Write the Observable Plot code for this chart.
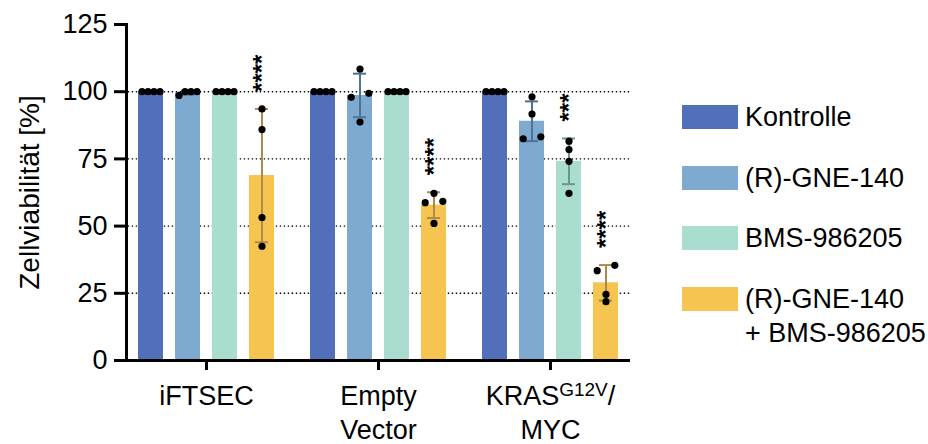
<!DOCTYPE html>
<html><head><meta charset="utf-8">
<script src="https://cdn.jsdelivr.net/npm/d3@7"></script>
<script src="https://cdn.jsdelivr.net/npm/@observablehq/plot@0.6"></script>
<style>
body{margin:0;background:#fff;font-family:"Liberation Sans",Arial,sans-serif;}
#wrap{position:relative;width:928px;height:444px;overflow:hidden;}
#chart{position:absolute;left:0;top:0;}
#legend{position:absolute;left:682px;top:0;width:246px;height:444px;}
.item{position:absolute;left:0;display:flex;align-items:flex-start;}
.sw{width:56px;height:24px;margin-top:5px;flex:none;}
.lab{margin-left:7px;font-size:27px;line-height:34px;color:#000;white-space:nowrap;}
</style></head><body>
<div id="wrap"><div id="chart"></div><div id="legend"></div></div>
<script>
// ---- data ----
const groups = ["iFTSEC", "Empty Vector", "KRAS G12V/MYC"];
const groupLabels = ["iFTSEC", "Empty\nVector", "KRASG12V/\nMYC"];
const treatments = ["Kontrolle", "(R)-GNE-140", "BMS-986205", "(R)-GNE-140 + BMS-986205"];
const legendLabels = ["Kontrolle", "(R)-GNE-140", "BMS-986205", "(R)-GNE-140<br>+ BMS-986205"];
const barColors = ["#5170b9", "#7eaacf", "#a8ddcf", "#f5c451"];
const errColors = ["#3b5690", "#4f7194", "#6b968e", "#ad8a47"];

// mean per group (iFTSEC, Empty Vector, KRAS/MYC)
const kontrolleMean = [100, 100, 100];
const gneMean = [99.6, 98.6, 89.0];
const bmsMean = [100, 100, 74.1];
const comboMean = [68.8, 57.8, 28.9];
// standard deviation per group
const kontrolleSD = [0, 0, 0];
const gneSD = [0.7, 8.1, 7.4];
const bmsSD = [0, 0, 8.5];
const comboSD = [24.8, 4.8, 6.6];
// single replicates per group
const kontrolleDots = [[100, 100, 100, 100], [100, 100, 100, 100], [100, 100, 100, 100]];
const gneDots = [[98.6, 100, 100, 100], [108.4, 99.4, 97.9, 88.7], [98.1, 91.7, 82.5, 83.2]];
const bmsDots = [[100, 100, 100, 100], [100, 100, 100, 100], [81.6, 78.5, 74.1, 62.2]];
const comboDots = [[93.6, 85.9, 53.2, 42.5], [62.2, 59.2, 58.7, 51.0], [33.4, 35.4, 24.6, 21.9]];
// significance marks
const starGroups = ["iFTSEC", "Empty Vector", "KRAS G12V/MYC", "KRAS G12V/MYC"];
const starTreatments = ["(R)-GNE-140 + BMS-986205", "(R)-GNE-140 + BMS-986205", "BMS-986205", "(R)-GNE-140 + BMS-986205"];
const starTexts = ["****", "****", "***", "****"];
const yTicks = [0, 25, 50, 75, 100, 125];
const gridValues = [25, 50, 75, 100];

// ---- tables ----
const means = [kontrolleMean, gneMean, bmsMean, comboMean];
const sds = [kontrolleSD, gneSD, bmsSD, comboSD];
const dotsAll = [kontrolleDots, gneDots, bmsDots, comboDots];
const bars = [];
groups.forEach((g, gi) => treatments.forEach((t, ti) => {
  bars.push({group: g, treatment: t, mean: means[ti][gi], sd: sds[ti][gi], lo: means[ti][gi] - sds[ti][gi], hi: means[ti][gi] + sds[ti][gi]});
}));
const errBars = bars.filter(d => d.sd > 0);

// scatter layout of replicate dots: dots that would overlap spread sideways
const dots = [];
groups.forEach((g, gi) => treatments.forEach((t, ti) => {
  const vals = dotsAll[ti][gi].slice().sort((a, b) => a - b);
  const clusters = [];
  vals.forEach(v => {
    const c = clusters[clusters.length - 1];
    if (c && v - c[c.length - 1] < 2.6) c.push(v); else clusters.push([v]);
  });
  clusters.forEach(c => {
    const n = c.length, sp = n > 2 ? 6 : 17.6;
    c.forEach((v, i) => dots.push({group: g, treatment: t, value: v, off: Math.round((i - (n - 1) / 2) * sp * 10) / 10}));
  });
}));
const offsets = Array.from(new Set(dots.map(d => d.off)));

const stars = starGroups.map((g, i) => {
  const b = bars.find(d => d.group === g && d.treatment === starTreatments[i]);
  return {group: g, treatment: starTreatments[i], top: b.hi, text: starTexts[i]};
});

const labelOf = new Map(groups.map((g, i) => [g, groupLabels[i]]));
const lastGroup = groups[groups.length - 1];
const grid = groups.flatMap(g => gridValues.map(v => ({group: g, v})));
const base = groups.map(g => ({group: g, v: 0}));
const gap = 6.26; // half the gap between facets, so lines run continuously

const chart = Plot.plot({
  width: 650,
  height: 444,
  marginLeft: 125,
  marginRight: 20,
  marginTop: 24,
  marginBottom: 84,
  style: {fontFamily: '"Liberation Sans", Arial, sans-serif', fontSize: "27px", color: "#000", background: "#fff"},
  fx: {domain: groups, paddingInner: 0.0725, paddingOuter: 0, label: null},
  x: {domain: treatments, padding: 0.3243, axis: null},
  y: {domain: [0, 125]},
  color: {domain: treatments, range: barColors},
  marks: [
    Plot.ruleY(grid.filter(d => d.group !== lastGroup), {fx: "group", y: "v", stroke: "#000", strokeWidth: 1.4, strokeDasharray: "1.4,2.6", insetLeft: -gap, insetRight: -gap}),
    Plot.ruleY(grid.filter(d => d.group === lastGroup), {fx: "group", y: "v", stroke: "#000", strokeWidth: 1.4, strokeDasharray: "1.4,2.6", insetLeft: -gap, insetRight: 0}),
    Plot.barY(bars, {fx: "group", x: "treatment", y: "mean", fill: "treatment"}),
    Plot.ruleX(errBars, {fx: "group", x: "treatment", y1: "lo", y2: "hi", stroke: d => errColors[treatments.indexOf(d.treatment)], strokeWidth: 2}),
    Plot.tickY(errBars, {fx: "group", x: "treatment", y: "hi", stroke: d => errColors[treatments.indexOf(d.treatment)], strokeWidth: 2, insetLeft: 6, insetRight: 6}),
    Plot.tickY(errBars, {fx: "group", x: "treatment", y: "lo", stroke: d => errColors[treatments.indexOf(d.treatment)], strokeWidth: 2, insetLeft: 6, insetRight: 6}),
    ...offsets.map(o => Plot.dot(dots.filter(d => d.off === o), {fx: "group", x: "treatment", y: "value", r: 3.6, fill: "#000", stroke: "none", dx: o})),
    Plot.text(stars, {fx: "group", x: "treatment", y: "top", text: "text", rotate: -90, textAnchor: "start", lineAnchor: "middle", dy: -17, dx: 0, fontSize: 24, fontWeight: "bold", fill: "#000"}),
    Plot.axisY({ticks: yTicks, tickSize: 12, tickPadding: 7, strokeWidth: 3, fontSize: 27, label: null}),
    Plot.axisY({ticks: [], label: "Zellviabilität [%]", labelAnchor: "center", labelArrow: "none", labelOffset: 107, fontSize: 28}),
    Plot.axisFx({anchor: "bottom", tickSize: 10, tickPadding: 10, strokeWidth: 3, fontSize: 27, lineHeight: 1.26, label: null, tickFormat: g => labelOf.get(g)}),
    Plot.ruleY(base.filter(d => d.group !== lastGroup), {fx: "group", y: "v", stroke: "#000", strokeWidth: 3, insetLeft: -gap, insetRight: -gap}),
    Plot.ruleY(base.filter(d => d.group === lastGroup), {fx: "group", y: "v", stroke: "#000", strokeWidth: 3, insetLeft: -gap, insetRight: 0}),
    Plot.frame({anchor: "left", facet: "super", stroke: "#000", strokeWidth: 3})
  ]
});
document.getElementById("chart").appendChild(chart);

// superscript in the KRAS label
chart.querySelectorAll("text tspan, text").forEach(el => {
  if (el.childElementCount === 0 && el.textContent === "KRASG12V/") {
    el.textContent = "KRAS";
    const sup = document.createElementNS("http://www.w3.org/2000/svg", "tspan");
    sup.setAttribute("font-size", "19");
    sup.setAttribute("dy", "-9");
    sup.textContent = "G12V";
    const sl = document.createElementNS("http://www.w3.org/2000/svg", "tspan");
    sl.setAttribute("dy", "9");
    sl.textContent = "/";
    el.appendChild(sup);
    el.appendChild(sl);
  }
});

// legend
const legend = document.getElementById("legend");
treatments.forEach((t, i) => {
  const item = document.createElement("div");
  item.className = "item";
  item.style.top = (100 + i * 60.7) + "px";
  item.innerHTML = `<div class="sw" style="background:${barColors[i]}"></div><div class="lab">${legendLabels[i]}</div>`;
  legend.appendChild(item);
});
</script></body></html>
